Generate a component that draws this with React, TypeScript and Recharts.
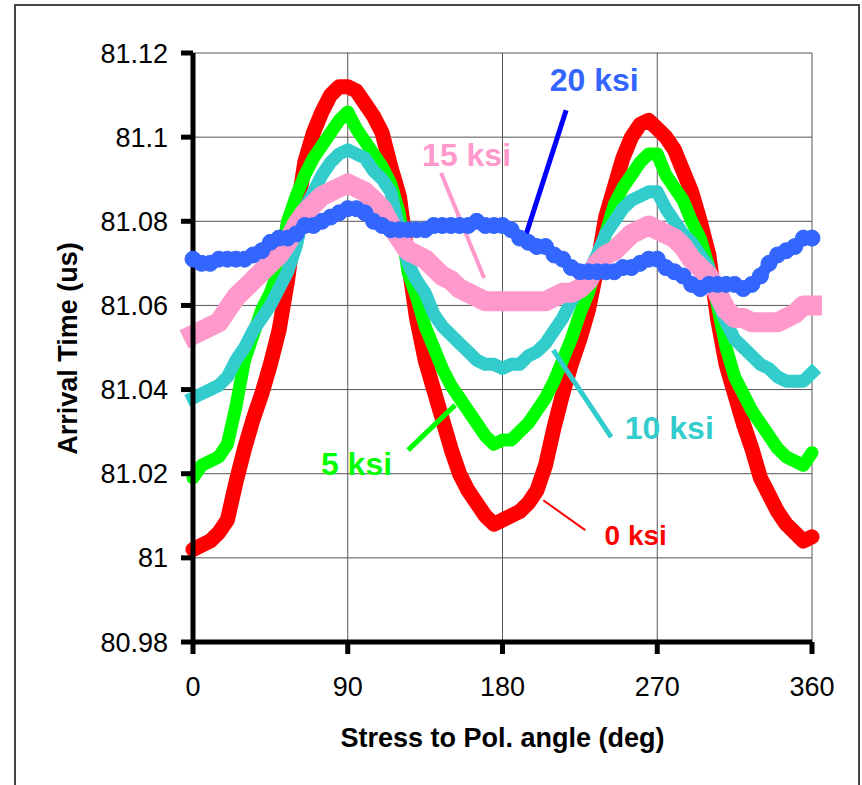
import React from 'react';
import { LineChart, Line, XAxis, YAxis, CartesianGrid, ReferenceLine, ReferenceDot } from 'recharts';

const ANGLES = [
  0, 5, 10, 15, 20, 25, 30, 35, 40, 45,
  50, 55, 60, 65, 70, 75, 80, 85, 90, 95,
  100, 105, 110, 115, 120, 125, 130, 135, 140, 145,
  150, 155, 160, 165, 170, 175, 180, 185, 190, 195,
  200, 205, 210, 215, 220, 225, 230, 235, 240, 245,
  250, 255, 260, 265, 270, 275, 280, 285, 290, 295,
  300, 305, 310, 315, 320, 325, 330, 335, 340, 345,
  350, 355, 360,
];

const KSI_0 = [
  81.002, 81.003, 81.004, 81.006, 81.009, 81.018, 81.026, 81.033, 81.039, 81.046,
  81.054, 81.066, 81.081, 81.094, 81.101, 81.106, 81.110, 81.112, 81.112, 81.111,
  81.108, 81.105, 81.101, 81.093, 81.086, 81.071, 81.057, 81.047, 81.040, 81.033,
  81.026, 81.020, 81.016, 81.013, 81.010, 81.008, 81.009, 81.010, 81.011, 81.013,
  81.016, 81.022, 81.031, 81.039, 81.046, 81.052, 81.059, 81.069, 81.081, 81.088,
  81.095, 81.100, 81.103, 81.104, 81.102, 81.100, 81.097, 81.092, 81.087, 81.080,
  81.072, 81.057, 81.046, 81.039, 81.032, 81.026, 81.019, 81.015, 81.011, 81.008,
  81.006, 81.004, 81.005,
];
const KSI_5 = [
  81.019, 81.022, 81.023, 81.024, 81.027, 81.036, 81.047, 81.053, 81.059, 81.063,
  81.069, 81.080, 81.086, 81.091, 81.095, 81.098, 81.101, 81.104, 81.106, 81.102,
  81.099, 81.096, 81.093, 81.089, 81.082, 81.068, 81.062, 81.055, 81.050, 81.045,
  81.041, 81.038, 81.035, 81.032, 81.029, 81.027, 81.028, 81.028, 81.030, 81.032,
  81.035, 81.038, 81.042, 81.047, 81.052, 81.058, 81.063, 81.070, 81.077, 81.084,
  81.088, 81.091, 81.094, 81.096, 81.096, 81.091, 81.088, 81.085, 81.080, 81.076,
  81.069, 81.060, 81.050, 81.043, 81.039, 81.035, 81.032, 81.029, 81.026, 81.024,
  81.023, 81.022, 81.025,
];
const KSI_10 = [
  81.038, 81.039, 81.040, 81.041, 81.043, 81.047, 81.050, 81.054, 81.057, 81.060,
  81.064, 81.068, 81.074, 81.083, 81.087, 81.091, 81.094, 81.096, 81.097, 81.096,
  81.095, 81.092, 81.090, 81.087, 81.078, 81.070, 81.066, 81.063, 81.058, 81.055,
  81.053, 81.051, 81.049, 81.047, 81.046, 81.046, 81.045, 81.046, 81.046, 81.048,
  81.049, 81.051, 81.054, 81.057, 81.061, 81.064, 81.068, 81.072, 81.077, 81.080,
  81.083, 81.085, 81.086, 81.087, 81.087, 81.083, 81.080, 81.077, 81.075, 81.072,
  81.069, 81.061, 81.056, 81.052, 81.050, 81.048, 81.046, 81.045, 81.043, 81.042,
  81.042, 81.042, 81.044,
];
const KSI_15 = [
  81.053, 81.054, 81.055, 81.056, 81.059, 81.062, 81.064, 81.066, 81.068, 81.070,
  81.072, 81.075, 81.079, 81.082, 81.084, 81.086, 81.087, 81.088, 81.089, 81.088,
  81.087, 81.085, 81.083, 81.079, 81.076, 81.073, 81.072, 81.071, 81.069, 81.067,
  81.066, 81.064, 81.063, 81.062, 81.061, 81.061, 81.061, 81.061, 81.061, 81.061,
  81.061, 81.061, 81.062, 81.063, 81.063, 81.064, 81.066, 81.070, 81.072, 81.073,
  81.075, 81.077, 81.078, 81.079, 81.078, 81.077, 81.076, 81.074, 81.071, 81.069,
  81.067, 81.063, 81.059, 81.057, 81.057, 81.056, 81.056, 81.056, 81.056, 81.057,
  81.058, 81.060, 81.060,
];
const KSI_20 = [
  81.071, 81.070, 81.070, 81.071, 81.071, 81.071, 81.071, 81.072, 81.073, 81.075,
  81.076, 81.076, 81.077, 81.079, 81.079, 81.080, 81.081, 81.082, 81.083, 81.083,
  81.082, 81.080, 81.079, 81.078, 81.078, 81.078, 81.078, 81.078, 81.079, 81.079,
  81.079, 81.079, 81.079, 81.080, 81.079, 81.079, 81.079, 81.078, 81.076, 81.075,
  81.074, 81.074, 81.072, 81.071, 81.069, 81.068, 81.068, 81.068, 81.068, 81.068,
  81.069, 81.069, 81.070, 81.071, 81.071, 81.069, 81.068, 81.067, 81.065, 81.064,
  81.065, 81.065, 81.065, 81.065, 81.064, 81.065, 81.067, 81.070, 81.072, 81.073,
  81.074, 81.076, 81.076,
];

const X_TICKS = [0, 90, 180, 270, 360];
const Y_TICKS = [80.98, 81, 81.02, 81.04, 81.06, 81.08, 81.1, 81.12];

const X_TITLE = 'Stress to Pol. angle (deg)';
const Y_TITLE = 'Arrival Time (us)';

// annotation labels (text, anchor angle, anchor value)
const LABEL_TEXT = ['20 ksi', '15 ksi', '10 ksi', '5 ksi', '0 ksi'];
const LABEL_X = [233.3, 159.1, 277.0, 95.1, 257.5];
const LABEL_Y = [81.1136, 81.0959, 81.0309, 81.0224, 81.0054];
const LABEL_SIZE = [32, 32, 32, 32, 28];
const LABEL_COLOR = ['#3366FF', '#FF99CC', '#33CCCC', '#00FF00', '#FF0000'];

// leader lines: from (x1,y1) to (x2,y2)
const LEADER_X1 = [217.0, 144.3, 209.5, 125.1, 228.1];
const LEADER_Y1 = [81.1064, 81.0915, 81.0494, 81.0256, 81.0066];
const LEADER_X2 = [193.8, 169.3, 243.2, 152.4, 203.7];
const LEADER_Y2 = [81.077, 81.0665, 81.0287, 81.0363, 81.0137];
const LEADER_COLOR = ['#0000FF', '#FF99CC', '#33CCCC', '#00FF00', '#FF0000'];
const LEADER_WIDTH = [5, 4, 5, 5, 2];

const data = ANGLES.map((a, i) => ({
  angle: a,
  ksi0: KSI_0[i],
  ksi5: KSI_5[i],
  ksi10: KSI_10[i],
  ksi15: KSI_15[i],
  ksi20: KSI_20[i],
}));

const FONT = '"Liberation Sans", Arial, sans-serif';

const fmtY = (v: number) => String(parseFloat(v.toFixed(2)));

export default function App() {
  return (
    <div style={{ position: 'absolute', left: 0, top: 0, width: 862, height: 785, overflow: 'hidden', background: '#fff' }}>
      <div style={{ position: 'absolute', left: 14, top: 4, width: 846, height: 820, border: '2px solid #444', boxSizing: 'border-box' }} />
      <div style={{ position: 'absolute', left: 0, top: 0 }}>
        <LineChart width={862} height={785} data={data} margin={{ top: 53, right: 50, bottom: 83, left: 0 }}>
          <CartesianGrid stroke="#555" strokeWidth={1} />
          <XAxis
            dataKey="angle"
            type="number"
            domain={[0, 360]}
            ticks={X_TICKS}
            height={60}
            tickSize={12}
            tickMargin={23}
            axisLine={{ stroke: '#000', strokeWidth: 5 }}
            tickLine={{ stroke: '#000', strokeWidth: 5 }}
            tick={{ fill: '#000', fontSize: 27, fontFamily: FONT }}
            interval={0}
          />
          <YAxis
            type="number"
            domain={[80.98, 81.12]}
            ticks={Y_TICKS}
            width={193}
            tickSize={12}
            tickMargin={13}
            tickFormatter={fmtY}
            axisLine={{ stroke: '#000', strokeWidth: 5 }}
            tickLine={{ stroke: '#000', strokeWidth: 5 }}
            tick={{ fill: '#000', fontSize: 27, fontFamily: FONT }}
            interval={0}
          />
          <Line type="linear" dataKey="ksi0" stroke="#FF0000" strokeWidth={15} dot={false} strokeLinejoin="round" strokeLinecap="round" isAnimationActive={false} />
          <Line type="linear" dataKey="ksi5" stroke="#00FF00" strokeWidth={13} dot={false} strokeLinejoin="round" strokeLinecap="round" isAnimationActive={false} />
          <Line type="linear" dataKey="ksi10" stroke="#33CCCC" strokeWidth={13} dot={false} strokeLinejoin="round" strokeLinecap="square" isAnimationActive={false} />
          <Line type="linear" dataKey="ksi15" stroke="#FF99CC" strokeWidth={20} dot={false} strokeLinejoin="round" strokeLinecap="square" isAnimationActive={false} />
          <Line type="linear" dataKey="ksi20" stroke="#3366FF" strokeWidth={12} dot={{ r: 8, fill: '#3366FF', stroke: '#3366FF', strokeWidth: 1 }} strokeLinejoin="round" isAnimationActive={false} />
          {LEADER_X1.map((x1, i) => (
            <ReferenceLine
              key={'l' + i}
              segment={[{ x: x1, y: LEADER_Y1[i] }, { x: LEADER_X2[i], y: LEADER_Y2[i] }]}
              stroke={LEADER_COLOR[i]}
              strokeWidth={LEADER_WIDTH[i]}
              ifOverflow="visible"
            />
          ))}
          {LABEL_TEXT.map((t, i) => (
            <ReferenceDot
              key={'t' + i}
              x={LABEL_X[i]}
              y={LABEL_Y[i]}
              r={0}
              fill="none"
              stroke="none"
              ifOverflow="visible"
              label={{ value: t, position: 'center', fill: LABEL_COLOR[i], fontSize: LABEL_SIZE[i], fontWeight: 'bold', fontFamily: FONT }}
            />
          ))}
        </LineChart>
      </div>
      <div style={{ position: 'absolute', left: 193, top: 725, width: 619, height: 27, lineHeight: '27px', textAlign: 'center', fontFamily: FONT, fontSize: 27, fontWeight: 'bold', color: '#000', whiteSpace: 'nowrap' }}>
        {X_TITLE}
      </div>
      <div style={{ position: 'absolute', left: -132, top: 334.5, width: 400, height: 27, lineHeight: '27px', textAlign: 'center', fontFamily: FONT, fontSize: 27, fontWeight: 'bold', color: '#000', whiteSpace: 'nowrap', transform: 'rotate(-90deg)' }}>
        {Y_TITLE}
      </div>
    </div>
  );
}
